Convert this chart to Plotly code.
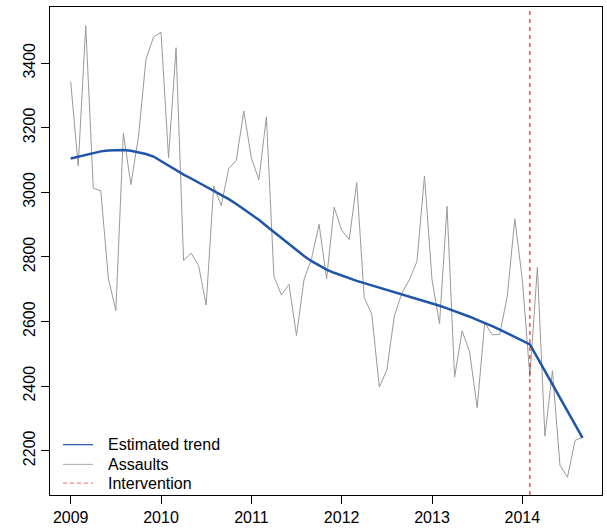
import plotly.graph_objects as go

# Monthly assault counts, January 2009 to September 2014
start_year = 2009
assaults = [
    3343, 3082, 3516, 3013, 3005, 2735, 2634, 3183, 3024, 3172, 3412, 3481,
    3496, 3107, 3448, 2789, 2812, 2773, 2651, 3020, 2959, 3074, 3099, 3252,
    3107, 3039, 3234, 2740, 2682, 2715, 2557, 2730, 2795, 2901, 2732, 2954,
    2883, 2854, 3030, 2674, 2623, 2397, 2450, 2618, 2688, 2730, 2786, 3051,
    2730, 2593, 2957, 2428, 2571, 2506, 2333, 2596, 2559, 2560, 2679, 2918,
    2730, 2430, 2768, 2245, 2448, 2155, 2118, 2232, 2242,
]

# Fitted trend from the segmented model
trend = [
    3105, 3111, 3117, 3123, 3127, 3130, 3131, 3131, 3129, 3125, 3119, 3111,
    3097, 3082, 3068, 3055, 3043, 3030, 3017, 3005, 2993, 2979, 2964, 2948,
    2932, 2915, 2896, 2877, 2858, 2840, 2821, 2803, 2787, 2773, 2761, 2751,
    2742, 2734, 2726, 2719, 2712, 2705, 2699, 2692, 2686, 2679, 2672, 2665,
    2657, 2649, 2641, 2633, 2624, 2615, 2605, 2596, 2586, 2575, 2564, 2553,
    2541, 2529, 2488, 2446, 2405, 2364, 2322, 2281, 2240,
]

intervention = 2014 + 1 / 12  # February 2014

x_ticks = [2009, 2010, 2011, 2012, 2013, 2014]
y_ticks = [2200, 2400, 2600, 2800, 3000, 3200, 3400]

legend_names = ["Estimated trend", "Assaults", "Intervention"]

months = [start_year + i / 12 for i in range(len(assaults))]

TREND_BLUE = "#1f55a8"
GREY = "#9a9a9a"
RED = "#ff2020"
FONT = dict(family="Liberation Sans, Arial, sans-serif", size=16, color="black")

fig = go.Figure()

fig.add_trace(go.Scatter(
    x=months, y=assaults, mode="lines", name="Assaults",
    line=dict(color=GREY, width=1), showlegend=False,
))
fig.add_trace(go.Scatter(
    x=months, y=trend, mode="lines", name="Estimated trend",
    line=dict(color=TREND_BLUE, width=2.5), showlegend=False,
))

fig.add_vline(x=intervention, line=dict(color=RED, width=1.2, dash="4px,4px"))

# Compact legend in the lower-left corner, drawn as key lines plus labels
key_styles = [
    dict(color=TREND_BLUE, width=1.2),
    dict(color="#b8b8b8", width=1.2),
    dict(color="#ff8080", width=1.2, dash="4px,3px"),
]
row_y = [0.1031, 0.0626, 0.0243]
for name, style, yy in zip(legend_names, key_styles, row_y):
    fig.add_shape(type="line", xref="paper", yref="paper",
                  x0=0.0235, x1=0.0778, y0=yy, y1=yy, line=style)
    fig.add_annotation(xref="paper", yref="paper", x=0.1013, y=yy,
                       xanchor="left", yanchor="middle", text=name,
                       showarrow=False, font=FONT)

axis_common = dict(
    showline=True, linecolor="black", linewidth=1, mirror=True,
    ticks="outside", ticklen=8, tickwidth=1, tickcolor="black",
    showgrid=False, zeroline=False, tickfont=FONT,
)

fig.update_layout(
    width=607, height=530,
    margin=dict(l=50, r=4, t=7, b=28),
    paper_bgcolor="white", plot_bgcolor="white",
    showlegend=False,
    xaxis=dict(range=[2008.771, 2014.882], tickvals=x_ticks,
               ticktext=[str(v) for v in x_ticks], **axis_common),
    yaxis=dict(range=[2063, 3574], tickvals=y_ticks,
               ticktext=[str(v) for v in y_ticks], tickangle=-90, **axis_common),
)

fig.write_html("out.html")
